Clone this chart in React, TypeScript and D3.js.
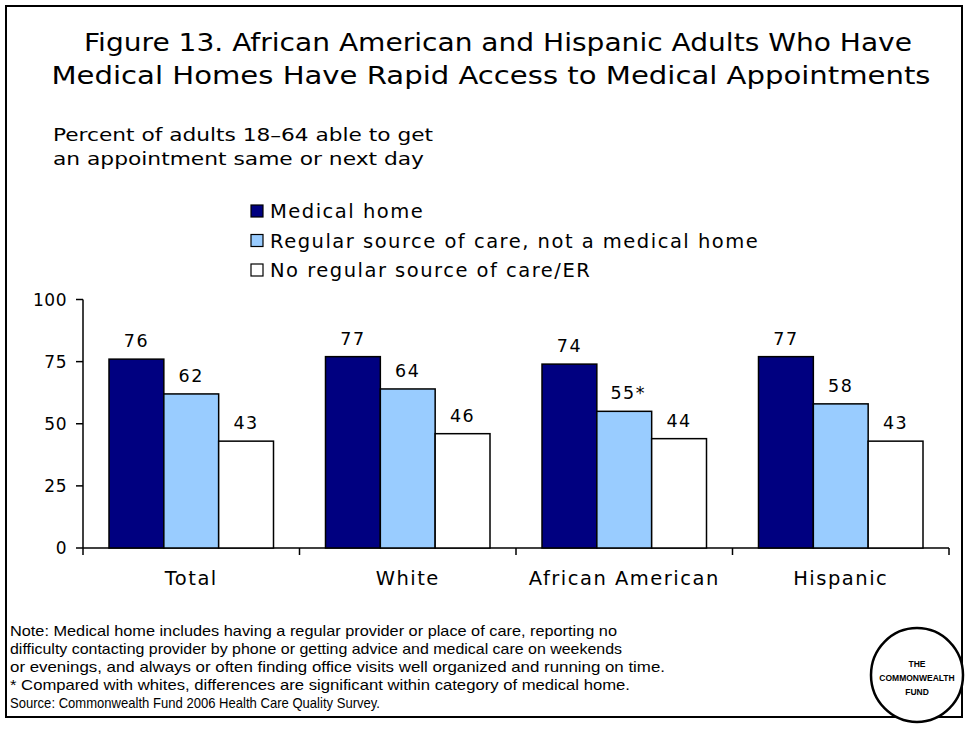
import React from "react";
import * as d3 from "d3";

const categories = ["Total", "White", "African American", "Hispanic"];
const seriesNames = [
  "Medical home",
  "Regular source of care, not a medical home",
  "No regular source of care/ER",
];
const medicalHome = [76, 77, 74, 77];
const regularSource = [62, 64, 55, 58];
const noRegular = [43, 46, 44, 43];
const valueLabels = [
  ["76", "77", "74", "77"],
  ["62", "64", "55*", "58"],
  ["43", "46", "44", "43"],
];
const yTicks = [0, 25, 50, 75, 100];
const colors = ["#000080", "#99CCFF", "#FFFFFF"];
const noteLines = [
  "Note: Medical home includes having a regular provider or place of care, reporting no",
  "difficulty contacting provider by phone or getting advice and medical care on weekends",
  "or evenings, and always or often finding office visits well organized and running on time.",
  "* Compared with whites, differences are significant within category of medical home.",
  "Source: Commonwealth Fund 2006 Health Care Quality Survey.",
];
const noteWidths = [607, 612, 655, 620, 370];

const FONT = "'DejaVu Sans', Verdana, sans-serif";
const NOTEFONT = "'Liberation Sans', Arial, sans-serif";

export default function App() {
  const W = 967, H = 730;
  const series = [medicalHome, regularSource, noRegular];
  const x0 = d3.scaleBand<string>().domain(categories).range([83, 949]).paddingInner(0).paddingOuter(0);
  const x1 = d3.scaleBand<number>().domain([0, 1, 2]).range([26, x0.bandwidth() - 26]).padding(0);
  const y = d3.scaleLinear().domain([0, 100]).range([548, 299.5]);

  return (
    <svg width={W} height={H} style={{ position: "absolute", left: 0, top: 0 }}>
      <rect x={0} y={0} width={W} height={H} fill="#fff" />
      <rect x={6} y={6} width={956} height={711} fill="none" stroke="#000" strokeWidth={2} />
      <text x={498} y={51} textAnchor="middle" fontFamily={FONT} fontSize={24} textLength={828} lengthAdjust="spacingAndGlyphs" fill="#000">
        Figure 13. African American and Hispanic Adults Who Have
      </text>
      <text x={491} y={84} textAnchor="middle" fontFamily={FONT} fontSize={24} textLength={879} lengthAdjust="spacingAndGlyphs" fill="#000">
        Medical Homes Have Rapid Access to Medical Appointments
      </text>
      <text x={53} y={141} fontFamily={FONT} fontSize={18} fill="#000" textLength={380} lengthAdjust="spacingAndGlyphs">Percent of adults 18–64 able to get</text>
      <text x={53} y={165} fontFamily={FONT} fontSize={18} fill="#000" textLength={371} lengthAdjust="spacingAndGlyphs">an appointment same or next day</text>

      {seriesNames.map((n, i) => (
        <g key={n}>
          <rect x={251} y={205 + i * 29.5} width={12} height={12} fill={colors[i]} stroke="#000" strokeWidth={1.2} />
          <text x={270} y={218 + i * 29.5} fontFamily={FONT} fontSize={19.5} fill="#000" letterSpacing={1.5}>{n}</text>
        </g>
      ))}

      {/* y axis */}
      <line x1={83} x2={83} y1={y(100)} y2={y(0)} stroke="#000" strokeWidth={1.5} />
      {yTicks.map((t) => (
        <g key={t}>
          <line x1={76} x2={83} y1={y(t)} y2={y(t)} stroke="#000" strokeWidth={1.5} />
          <text x={67} y={y(t) + 6} textAnchor="end" fontFamily={FONT} fontSize={17} fill="#000" letterSpacing={0.5}>{t}</text>
        </g>
      ))}
      {/* x axis */}
      <line x1={83} x2={949} y1={y(0)} y2={y(0)} stroke="#000" strokeWidth={1.5} />
      {categories.concat(["end"]).map((c, i) => {
        const xx = i < categories.length ? (x0(c) as number) : 949;
        return <line key={c} x1={xx} x2={xx} y1={y(0)} y2={y(0) + 7} stroke="#000" strokeWidth={1.5} />;
      })}
      {categories.map((c) => (
        <text key={c} x={(x0(c) as number) + x0.bandwidth() / 2} y={585} textAnchor="middle" fontFamily={FONT} fontSize={19.5} fill="#000" letterSpacing={1.5}>{c}</text>
      ))}

      {categories.map((c, ci) => (
        <g key={c} transform={`translate(${x0(c)},0)`}>
          {series.map((s, si) => (
            <g key={si}>
              <rect x={x1(si) as number} y={y(s[ci])} width={x1.bandwidth()} height={y(0) - y(s[ci])} fill={colors[si]} stroke="#000" strokeWidth={1.5} />
              <text x={(x1(si) as number) + x1.bandwidth() / 2 + (valueLabels[si][ci].includes("*") ? 4 : 0)} y={y(s[ci]) - 12} textAnchor="middle" fontFamily={FONT} fontSize={17.5} fill="#000" letterSpacing={1.5}>{valueLabels[si][ci]}</text>
            </g>
          ))}
        </g>
      ))}

      {noteLines.map((l, i) => (
        <text key={i} x={10} y={636 + i * 18} fontFamily={NOTEFONT} fontSize={14.5} fill="#000" textLength={noteWidths[i]} lengthAdjust="spacingAndGlyphs">{l}</text>
      ))}

      <ellipse cx={917} cy={675} rx={46} ry={47} fill="#fff" stroke="#000" strokeWidth={2.5} />
      <text x={917} y={667} textAnchor="middle" fontFamily={NOTEFONT} fontWeight="bold" fontSize={8.5} fill="#000">THE</text>
      <text x={917} y={681} textAnchor="middle" fontFamily={NOTEFONT} fontWeight="bold" fontSize={8.5} fill="#000">COMMONWEALTH</text>
      <text x={917} y={695} textAnchor="middle" fontFamily={NOTEFONT} fontWeight="bold" fontSize={8.5} fill="#000">FUND</text>
    </svg>
  );
}
